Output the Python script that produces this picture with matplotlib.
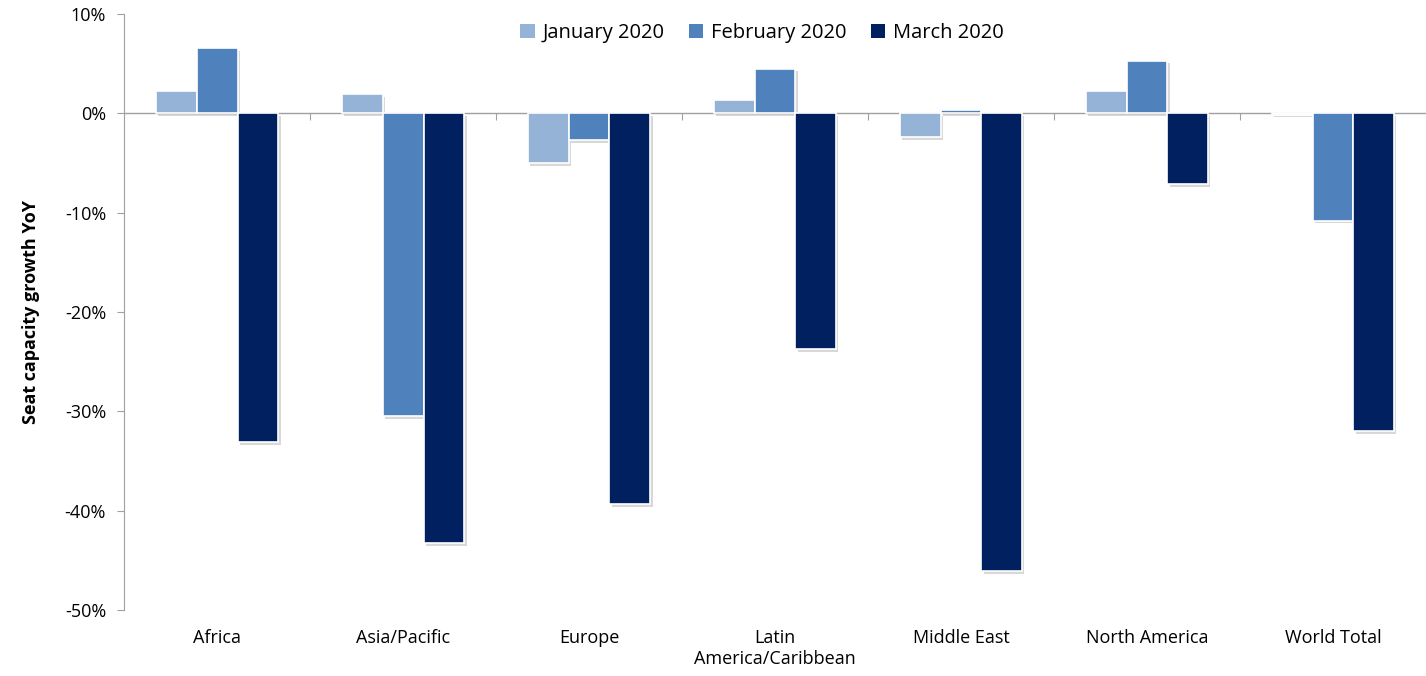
import numpy as np
import matplotlib
matplotlib.use("Agg")
from matplotlib import pyplot as plt
from matplotlib import patheffects as pe
from matplotlib.patches import Patch
from matplotlib.ticker import FuncFormatter

regions = ["Africa", "Asia/Pacific", "Europe", "Latin\nAmerica/Caribbean",
           "Middle East", "North America", "World Total"]
series_names = ["January 2020", "February 2020", "March 2020"]
jan_2020 = [2.2, 1.9, -5.0, 1.3, -2.4, 2.2, -0.1]
feb_2020 = [6.6, -30.5, -2.7, 4.5, 0.3, 5.3, -10.8]
mar_2020 = [-33.1, -43.3, -39.3, -23.7, -46.1, -7.1, -32.0]
colors = ["#95B3D7", "#4F81BD", "#002060"]

plt.rcParams["font.family"] = ["Open Sans", "DejaVu Sans"]

fig = plt.figure(figsize=(14.26, 6.76), dpi=100)
ax = fig.add_axes([0.087, 0.0976, 0.913, 0.8817])

x = np.arange(len(regions))
width = 0.22
shadow = [pe.SimplePatchShadow(offset=(1.5, -2), alpha=0.3, shadow_rgbFace="gray"), pe.Normal()]
for i, vals in enumerate([jan_2020, feb_2020, mar_2020]):
    ax.bar(x + (i - 1) * width, vals, width, color=colors[i], edgecolor="white",
           linewidth=1.2, path_effects=shadow, zorder=3)

ax.set_xlim(-0.5, len(regions) - 0.5)
ax.set_ylim(-50, 10)
ax.set_yticks(np.arange(-50, 11, 10))
ax.yaxis.set_major_formatter(FuncFormatter(lambda v, p: f"{v:.0f}%"))
ax.tick_params(axis="y", labelsize=13, direction="out", length=5, color="#A0A0A0", pad=8)

ax.set_xticks(x)
ax.set_xticklabels(regions, fontsize=13)
ax.tick_params(axis="x", length=0, pad=14)

for s in ["top", "right", "bottom"]:
    ax.spines[s].set_visible(False)
ax.spines["left"].set_color("#A0A0A0")

ax.axhline(0, color="#A0A0A0", linewidth=1.0, zorder=2)
sec = ax.secondary_xaxis(0, transform=ax.transData)
sec.set_xticks(np.arange(0.5, len(regions) - 0.5, 1))
sec.set_xticklabels([])
sec.tick_params(length=5, color="#A0A0A0", direction="out")
for sp in sec.spines.values():
    sp.set_visible(False)

ax.set_ylabel("Seat capacity growth YoY", fontsize=13, fontweight="bold", labelpad=18)

handles = [Patch(facecolor=c, edgecolor="none") for c in colors]
ax.legend(handles, series_names, loc="upper center", bbox_to_anchor=(0.49, 1.015), ncol=3,
          frameon=False, fontsize=14.5, handlelength=0.7, handleheight=0.7,
          handletextpad=0.4, columnspacing=1.2)

fig.savefig("out.png", dpi=100)
